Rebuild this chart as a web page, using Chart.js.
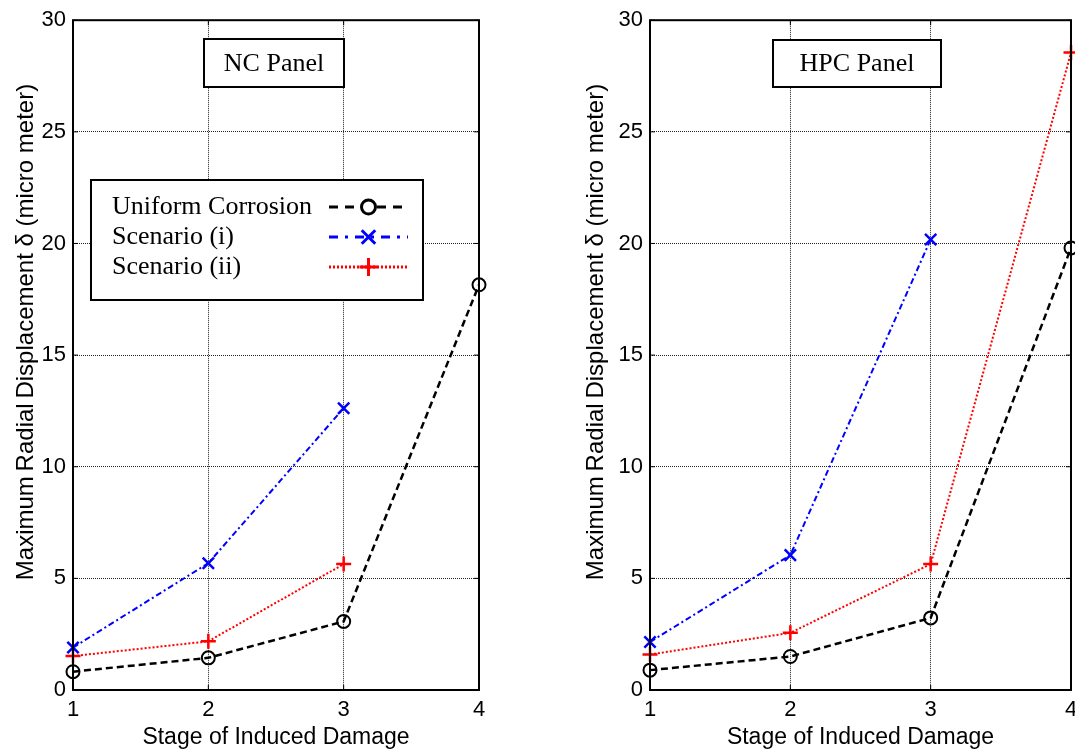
<!DOCTYPE html>
<html>
<head>
<meta charset="utf-8">
<script src="https://cdn.jsdelivr.net/npm/chart.js@4/dist/chart.umd.min.js"></script>
<style>
  html, body { margin: 0; padding: 0; background: #fff; overflow: hidden; width: 1075px; height: 756px; }
  canvas { position: absolute; top: 0; }
  #nc { left: 0; }
  #hpc { left: 555px; }
</style>
</head>
<body>
<canvas id="nc" width="540" height="756"></canvas>
<canvas id="hpc" width="540" height="756"></canvas>
<script>
// stages on the x axis
const stages = [1, 2, 3, 4];
const yTicks = [0, 5, 10, 15, 20, 25, 30];

// NC panel (micro meter)
const ncUniform = [0.82, 1.44, 3.07, 18.15];
const ncScenario1 = [1.9, 5.68, 12.62];
const ncScenario2 = [1.52, 2.18, 5.64];

// HPC panel (micro meter)
const hpcUniform = [0.89, 1.5, 3.23, 19.8];
const hpcScenario1 = [2.15, 6.04, 20.18];
const hpcScenario2 = [1.59, 2.56, 5.64, 28.55];

const seriesNames = ['Uniform Corrosion', 'Scenario (i)', 'Scenario (ii)'];
const yTitle = 'Maximum\u2009Radial\u2009Displacement δ (micro meter)';
const xTitle = 'Stage of Induced Damage';

Chart.defaults.font.family = '"Liberation Sans", Arial, sans-serif';
Chart.defaults.color = '#000';

const toPoints = (vals) => vals.map((v, i) => ({ x: stages[i], y: v }));

const styles = [
  { color: '#000000', dash: [7, 4], legendDash: [9, 7], width: 2.5, point: 'circle', radius: 6.5, pw: 2 },
  { color: '#0000ff', dash: [6, 3, 2, 3], legendDash: [9, 7, 3, 7], width: 2, point: 'crossRot', radius: 8, pw: 2.5 },
  { color: '#ff0000', dash: [2, 2], legendDash: [2, 2], width: 2, point: 'cross', radius: 7.5, pw: 2.5 },
];

const makeDatasets = (series) => series.map((vals, i) => ({
  label: seriesNames[i],
  data: toPoints(vals),
  borderColor: styles[i].color,
  borderDash: styles[i].dash,
  borderWidth: styles[i].width,
  pointStyle: styles[i].point,
  pointRadius: styles[i].radius,
  pointBorderColor: styles[i].color,
  pointBackgroundColor: 'rgba(0,0,0,0)',
  pointBorderWidth: styles[i].pw,
  tension: 0,
  clip: false,
}));

// draw a marker by hand (legend samples)
const drawMarker = (ctx, style, x, y, r) => {
  ctx.beginPath();
  if (style === 'circle') {
    ctx.arc(x, y, r, 0, Math.PI * 2);
    ctx.fillStyle = '#fff';
    ctx.fill();
  } else if (style === 'crossRot') {
    const d = r * 0.75;
    ctx.moveTo(x - d, y - d); ctx.lineTo(x + d, y + d);
    ctx.moveTo(x + d, y - d); ctx.lineTo(x - d, y + d);
  } else {
    ctx.moveTo(x - r, y); ctx.lineTo(x + r, y);
    ctx.moveTo(x, y - r); ctx.lineTo(x, y + r);
  }
  ctx.stroke();
};

const framePlugin = {
  id: 'frame',
  afterDraw(chart, args, opts) {
    const { ctx, chartArea: a } = chart;
    ctx.save();
    ctx.setLineDash([]);
    ctx.strokeStyle = '#000';

    // inward tick marks on all four sides
    ctx.lineWidth = 1;
    const xs = chart.scales.x, ys = chart.scales.y;
    xs.ticks.forEach((t) => {
      const px = xs.getPixelForValue(t.value);
      ctx.beginPath();
      ctx.moveTo(px, a.bottom); ctx.lineTo(px, a.bottom - 5);
      ctx.moveTo(px, a.top); ctx.lineTo(px, a.top + 5);
      ctx.stroke();
    });
    ys.ticks.forEach((t) => {
      const py = ys.getPixelForValue(t.value);
      ctx.beginPath();
      ctx.moveTo(a.left, py); ctx.lineTo(a.left + 5, py);
      ctx.moveTo(a.right, py); ctx.lineTo(a.right - 5, py);
      ctx.stroke();
    });

    // axes box
    ctx.lineWidth = 2;
    ctx.strokeRect(a.left, a.top, a.right - a.left, a.bottom - a.top);

    // y axis title, placed like the original (a bit above centre)
    ctx.save();
    ctx.translate(opts.yTitleX, opts.yTitleY);
    ctx.rotate(-Math.PI / 2);
    ctx.fillStyle = '#000';
    ctx.font = '24px "Liberation Sans", Arial, sans-serif';
    ctx.textAlign = 'center';
    ctx.textBaseline = 'middle';
    ctx.fillText(yTitle, 0, 0);
    ctx.restore();

    // panel label
    const b = opts.labelBox;
    ctx.fillStyle = '#fff';
    ctx.fillRect(b[0], b[1], b[2], b[3]);
    ctx.strokeRect(b[0], b[1], b[2], b[3]);
    ctx.fillStyle = '#000';
    ctx.font = '26px "Liberation Serif", "Times New Roman", serif';
    ctx.textAlign = 'center';
    ctx.textBaseline = 'middle';
    ctx.fillText(opts.label, b[0] + b[2] / 2, b[1] + b[3] / 2 + 1);

    // legend
    if (opts.legendBox) {
      const l = opts.legendBox;
      ctx.fillStyle = '#fff';
      ctx.fillRect(l[0], l[1], l[2], l[3]);
      ctx.strokeRect(l[0], l[1], l[2], l[3]);
      ctx.textAlign = 'left';
      chart.data.datasets.forEach((ds, i) => {
        const y = l[1] + 27 + i * 30;
        ctx.fillStyle = '#000';
        ctx.fillText(ds.label, l[0] + 21, y);
        const x0 = l[0] + 238, x1 = l[0] + 317, xm = (x0 + x1) / 2;
        ctx.strokeStyle = ds.borderColor;
        ctx.lineWidth = 3;
        ctx.setLineDash(styles[i].legendDash);
        ctx.beginPath();
        ctx.moveTo(x0, y); ctx.lineTo(x1, y);
        ctx.stroke();
        ctx.setLineDash([]);
        ctx.lineWidth = 3;
        drawMarker(ctx, ds.pointStyle, xm, y, ds.pointStyle === 'circle' ? 7 : 9);
      });
    }
    ctx.restore();
  },
};

const makeChart = (id, series, yAxisWidth, padRight, frameOpts) => {
  return new Chart(document.getElementById(id), {
    type: 'line',
    data: { datasets: makeDatasets(series) },
    options: {
      responsive: false,
      animation: false,
      layout: { padding: { top: 15, right: padRight, bottom: 0, left: 0 } },
      plugins: {
        legend: { display: false },
        tooltip: { enabled: false },
        frame: frameOpts,
      },
      scales: {
        x: {
          type: 'linear',
          min: 1,
          max: 4,
          afterBuildTicks: (scale) => { scale.ticks = stages.map((v) => ({ value: v })); },
          ticks: { font: { size: 22 }, padding: 7, maxRotation: 0 },
          grid: { color: '#222', lineWidth: 1, drawTicks: false },
          border: { display: false, dash: [1, 1] },
          title: { display: true, text: xTitle, font: { size: 23 }, padding: { top: 0, bottom: 5 } },
          afterFit: (scale) => { scale.height = 66; },
        },
        y: {
          min: 0,
          max: 30,
          afterBuildTicks: (scale) => { scale.ticks = yTicks.map((v) => ({ value: v })); },
          ticks: { font: { size: 22 }, padding: 7 },
          grid: { color: '#222', lineWidth: 1, drawTicks: false },
          border: { display: false, dash: [1, 1] },
          afterFit: (scale) => { scale.width = yAxisWidth; },
        },
      },
    },
    plugins: [framePlugin],
  });
};

makeChart('nc', [ncUniform, ncScenario1, ncScenario2], 73, 61, {
  label: 'NC Panel',
  labelBox: [204, 39, 140, 48],
  legendBox: [91, 180, 332, 120],
  yTitleX: 26,
  yTitleY: 332,
});

makeChart('hpc', [hpcUniform, hpcScenario1, hpcScenario2], 95, 24, {
  label: 'HPC Panel',
  labelBox: [218, 40, 168, 47],
  yTitleX: 41,
  yTitleY: 332,
});
</script>
</body>
</html>
